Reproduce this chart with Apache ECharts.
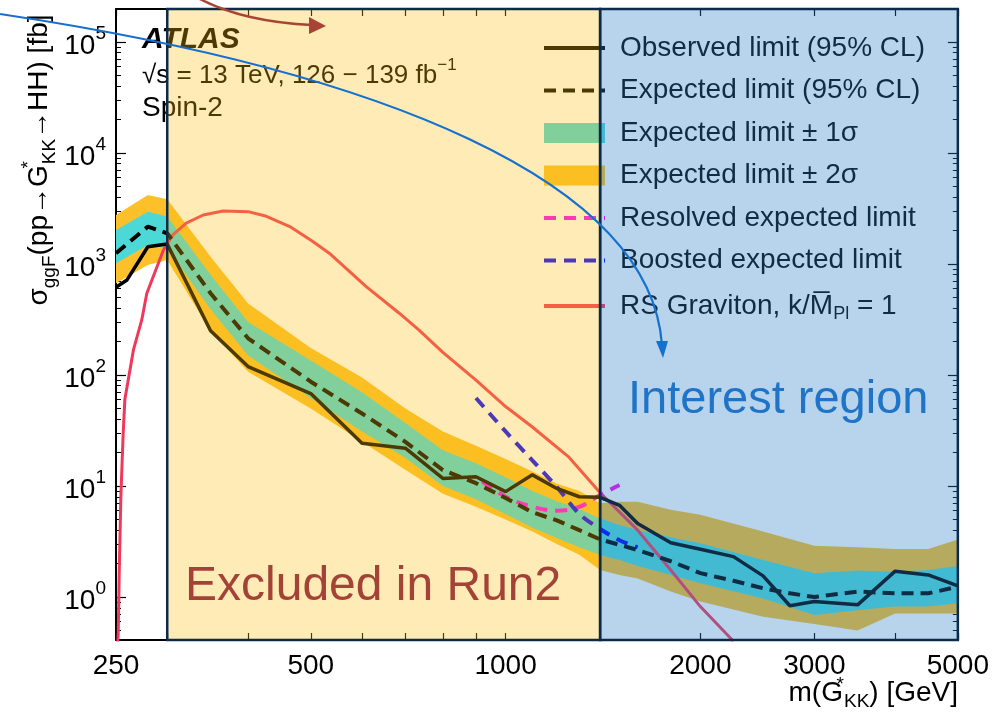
<!DOCTYPE html>
<html>
<head>
<meta charset="utf-8">
<script src="https://cdn.jsdelivr.net/npm/echarts@6/dist/echarts.min.js"></script>
<style>
html, body { margin: 0; padding: 0; background: #fff; }
#chart { width: 992px; height: 715px; }
</style>
</head>
<body>
<div id="chart"></div>
<script>
// observed limit (95% CL)
const obsMass = [250, 260, 280, 300, 350, 400, 500, 600, 700, 800, 900, 1000, 1100, 1200, 1300, 1400, 1500, 1600, 1800, 2000, 2250, 2500, 2750, 3000, 3500, 4000, 4500, 5000];
const obsLimit = [617, 718, 1430, 1510, 250, 119, 68, 24.3, 21.9, 11.7, 12.1, 8.9, 12.6, 9.5, 8.0, 7.9, 6.7, 4.6, 3.08, 2.69, 2.31, 1.55, 0.835, 0.91, 0.85, 1.71, 1.58, 1.26];
// expected limit
const expMass = [250, 280, 300, 350, 400, 500, 600, 700, 800, 900, 1000, 1100, 1200, 1300, 1400, 1500, 1600, 1800, 2000, 2250, 2500, 2750, 3000, 3500, 4000, 4500, 5000];
const expLimit = [1250, 2170, 1890, 545, 214, 87, 45, 25, 13.9, 10.6, 7.8, 5.8, 4.9, 4.0, 3.3, 2.95, 2.65, 2.1, 1.64, 1.4, 1.2, 1.08, 1.0, 1.12, 1.08, 1.08, 1.24];
// +-1 sigma / +-2 sigma bands
const bandMass = [250, 280, 300, 350, 400, 500, 600, 700, 800, 900, 1000, 1100, 1200, 1300, 1400, 1500, 1600, 1800, 2000, 2500, 3000, 3500, 4000, 4500, 5000];
const band2Up = [2760, 4180, 3830, 1160, 440, 175, 95, 50, 31, 23, 17.5, 13.5, 10.5, 9.0, 7.0, 7.2, 7.2, 6.1, 5.5, 3.9, 2.9, 2.8, 2.7, 2.7, 3.3];
const band1Up = [2020, 2960, 2670, 800, 300, 135, 70, 37, 21, 16, 12, 9.0, 7.3, 6.2, 5.1, 4.45, 4.0, 3.45, 3.05, 2.15, 1.64, 1.73, 1.69, 1.75, 1.9];
const band1Lo = [1015, 1480, 1385, 390, 150, 62, 31, 18, 10, 7.6, 5.6, 4.2, 3.4, 2.8, 2.39, 2.15, 1.9, 1.58, 1.33, 0.97, 0.69, 0.76, 0.82, 0.82, 0.88];
const band2Lo = [670, 980, 1086, 250, 107, 50, 25, 14, 8.5, 6.5, 5.0, 3.9, 3.0, 2.4, 1.75, 1.58, 1.47, 1.12, 0.91, 0.665, 0.57, 0.50, 0.71, 0.71, 0.71];
// resolved / boosted expected
const resMass = [920, 1000, 1100, 1200, 1300, 1400, 1500];
const resLimit = [11, 8, 6.5, 6.0, 6.5, 8.3, 10.2];
const booMass = [900, 1000, 1100, 1200, 1300, 1400, 1500, 1600];
const booLimit = [62, 31, 17, 9.8, 5.6, 4.1, 3.25, 2.8];
// RS graviton, k/MPl = 1
const rsMass = [251, 252, 253, 254.3, 255, 256.5, 258, 261.6, 266, 274, 279, 288, 296, 306, 321, 341, 366, 400, 427, 464, 503, 534, 609, 685, 735, 800, 900, 1000, 1100, 1250, 1400, 1600, 1800, 2000, 2250];
const rsXsec = [0.3, 0.47, 1.9, 7.5, 12, 30, 60, 96, 168, 313, 545, 883, 1336, 1824, 2330, 2760, 3000, 2960, 2690, 2170, 1600, 1250, 624, 360, 254, 160, 90, 52, 34, 18.4, 8.7, 4.0, 1.75, 0.82, 0.4];

// shaded regions
const regionStart = [300, 1400];
const regionEnd = [1400, 5000];

// axis ticks
const xTicks = [250, 300, 400, 500, 600, 700, 800, 900, 1000, 2000, 3000, 4000, 5000];
const xLabels = [250, 500, 1000, 2000, 3000, 5000];
const yMajor = [1, 10, 100, 1000, 10000, 100000];
const yMinor = [];
[0.1, 1, 10, 100, 1000, 10000, 100000].forEach(function (d) {
  for (let k = 2; k <= 9; k++) yMinor.push(k * d);
});

const FONT = '"Liberation Sans", Arial, Helvetica, sans-serif';
const names = {
  obs: 'Observed limit (95% CL)',
  exp: 'Expected limit (95% CL)',
  s1: 'Expected limit \u00b1 1\u03c3',
  s2: 'Expected limit \u00b1 2\u03c3',
  res: 'Resolved expected limit',
  boo: 'Boosted expected limit',
  rs: 'RS Graviton'
};

function pairs(xs, ys) {
  return xs.map(function (x, i) { return [x, ys[i]]; });
}

function bandSeries(name, up, lo, color) {
  return {
    type: 'custom',
    name: name,
    z: 1,
    silent: true,
    clip: true,
    itemStyle: { color: color },
    data: [[bandMass[0], up[0]]],
    encode: { x: 0, y: 1 },
    renderItem: function (params, api) {
      const pts = [];
      for (let i = 0; i < bandMass.length; i++) pts.push(api.coord([bandMass[i], up[i]]));
      for (let i = bandMass.length - 1; i >= 0; i--) pts.push(api.coord([bandMass[i], lo[i]]));
      return { type: 'polygon', shape: { points: pts }, style: { fill: color } };
    }
  };
}

const regionFill = ['rgba(252,188,12,0.30)', 'rgba(47,129,200,0.34)'];

function yLabel(v) {
  const e = Math.round(Math.log10(v));
  return '{b|10}{s|' + e + '}';
}

// legend entry for a line: hide the round marker, keep the line
function lineEntry(name) {
  return {
    name: name,
    itemStyle: { color: 'rgba(0,0,0,0)', borderColor: 'rgba(0,0,0,0)', borderWidth: 0 },
    lineStyle: { width: 4 }
  };
}

const yAxisBase = {
  type: 'log', logBase: 10, min: 0.41, max: 1.98e5,
  splitLine: { show: false },
  axisLine: { show: true, lineStyle: { color: '#000', width: 2 } }
};

const myChart = echarts.init(document.getElementById('chart'));
const option = {
  animation: false,
  backgroundColor: '#fff',
  grid: { left: 116, right: 33, top: 9, bottom: 75 },
  xAxis: [{
    type: 'log', logBase: 10, min: 250, max: 5000, position: 'bottom',
    splitLine: { show: false },
    axisLine: { lineStyle: { color: '#000', width: 2 } },
    axisTick: { inside: true, length: 7, customValues: xTicks, lineStyle: { color: '#000', width: 1.2 } },
    axisLabel: {
      customValues: xLabels, fontSize: 28, color: '#000', fontFamily: FONT, margin: 12,
      formatter: function (v) { return String(Math.round(v)); }
    }
  }, {
    type: 'log', logBase: 10, min: 250, max: 5000, position: 'top',
    splitLine: { show: false },
    axisLine: { lineStyle: { color: '#000', width: 2 } },
    axisTick: { inside: true, length: 7, customValues: xTicks, lineStyle: { color: '#000', width: 1.2 } },
    axisLabel: { show: false }
  }],
  yAxis: [
    Object.assign({}, yAxisBase, {
      position: 'left',
      axisTick: { inside: true, length: 10, customValues: yMajor, lineStyle: { color: '#000', width: 1.2 } },
      axisLabel: {
        customValues: yMajor, formatter: yLabel, margin: 10, color: '#000',
        rich: {
          b: { fontSize: 28, fontFamily: FONT, color: '#000', lineHeight: 36, verticalAlign: 'bottom' },
          s: { fontSize: 19, fontFamily: FONT, color: '#000', lineHeight: 36, verticalAlign: 'top' }
        }
      }
    }),
    Object.assign({}, yAxisBase, {
      position: 'left', axisLine: { show: false },
      axisTick: { inside: true, length: 5, customValues: yMinor, lineStyle: { color: '#000', width: 1 } },
      axisLabel: { show: false }
    }),
    Object.assign({}, yAxisBase, {
      position: 'right',
      axisTick: { inside: true, length: 10, customValues: yMajor, lineStyle: { color: '#000', width: 1.2 } },
      axisLabel: { show: false }
    }),
    Object.assign({}, yAxisBase, {
      position: 'right', axisLine: { show: false },
      axisTick: { inside: true, length: 5, customValues: yMinor, lineStyle: { color: '#000', width: 1 } },
      axisLabel: { show: false }
    })
  ],
  legend: {
    orient: 'vertical', left: 537, top: 29, z: 1,
    itemWidth: 61, itemHeight: 20, itemGap: 14.5,
    selectedMode: false,
    lineStyle: { width: 4 },
    textStyle: {
      fontSize: 28, fontFamily: FONT, color: '#000', lineHeight: 28, padding: [0, 0, 0, 10],
      rich: {
        a: { fontSize: 28, fontFamily: FONT, color: '#000' },
        s: { fontSize: 18, fontFamily: FONT, color: '#000', verticalAlign: 'bottom', lineHeight: 34 }
      }
    },
    formatter: function (name) {
      if (name === names.rs) return '{a|RS Graviton, k/M\u0305}{s|Pl}{a| = 1}';
      return name;
    },
    data: [
      lineEntry(names.obs),
      lineEntry(names.exp),
      { name: names.s1, icon: 'rect' },
      { name: names.s2, icon: 'rect' },
      lineEntry(names.res),
      lineEntry(names.boo),
      lineEntry(names.rs)
    ]
  },
  series: [
    bandSeries(names.s2, band2Up, band2Lo, '#fcc02a'),
    bandSeries(names.s1, band1Up, band1Lo, '#4dd8d8'),
    {
      type: 'line', name: names.rs, data: pairs(rsMass, rsXsec), z: 3,
      symbol: 'none',
      lineStyle: { color: '#f2385a', width: 3 }, itemStyle: { color: '#f2385a' }
    },
    {
      type: 'line', name: names.res, data: pairs(resMass, resLimit), z: 4,
      symbol: 'none', smooth: 0.4,
      lineStyle: { color: '#ff00ff', width: 4, type: [12, 8] }, itemStyle: { color: '#ff00ff' }
    },
    {
      type: 'line', name: names.boo, data: pairs(booMass, booLimit), z: 4,
      symbol: 'none', smooth: 0.3,
      lineStyle: { color: '#0000ff', width: 4, type: [12, 8] }, itemStyle: { color: '#0000ff' }
    },
    {
      type: 'line', name: names.exp, data: pairs(expMass, expLimit), z: 5,
      symbol: 'none',
      lineStyle: { color: '#000', width: 4, type: [12, 7] }, itemStyle: { color: '#000' }
    },
    {
      type: 'line', name: names.obs, data: pairs(obsMass, obsLimit), z: 6,
      symbol: 'none',
      lineStyle: { color: '#000', width: 3.5 }, itemStyle: { color: '#000' }
    },
    {
      type: 'custom', name: 'regions', z: 10, silent: true,
      data: regionStart.map(function (s, i) { return [s, regionEnd[i]]; }),
      encode: { x: [0, 1] },
      renderItem: function (params, api) {
        const cs = params.coordSys;
        const x0 = api.coord([api.value(0), 1])[0];
        const x1 = api.coord([api.value(1), 1])[0];
        return {
          type: 'rect',
          shape: { x: x0, y: cs.y, width: x1 - x0, height: cs.height },
          style: { fill: regionFill[params.dataIndex], stroke: '#0c2a4a', lineWidth: 2.5 }
        };
      }
    }
  ],
  graphic: [
    { type: 'text', left: 142, top: 25, z: 1,
      style: { text: 'ATLAS', font: 'italic bold 30px ' + FONT, fill: '#000' } },
    { type: 'text', left: 142, top: 57, z: 1,
      style: {
        text: '{t|\u221as = 13 TeV, 126 \u2212 139 fb}{p|\u22121}',
        rich: {
          t: { fontSize: 26, fontFamily: FONT, fill: '#000', lineHeight: 32, verticalAlign: 'bottom' },
          p: { fontSize: 17, fontFamily: FONT, fill: '#000', lineHeight: 32, verticalAlign: 'top' }
        }
      } },
    { type: 'text', left: 142, top: 94, z: 1,
      style: { text: 'Spin-2', font: '28px ' + FONT, fill: '#000' } },
    { type: 'text', z: 1, x: 39, y: 160, rotation: Math.PI / 2,
      style: {
        text: '{m|\u03c3}{d|ggF}{m|(pp\u2192G}{u|*}{d|KK}{m|\u2192HH) [fb]}',
        align: 'center', verticalAlign: 'middle',
        rich: {
          m: { fontSize: 28, fontFamily: FONT, fill: '#000', lineHeight: 40, verticalAlign: 'middle' },
          d: { fontSize: 19, fontFamily: FONT, fill: '#000', lineHeight: 40, verticalAlign: 'bottom' },
          u: { fontSize: 19, fontFamily: FONT, fill: '#000', lineHeight: 40, verticalAlign: 'top', width: 1 }
        }
      } },
    { type: 'text', z: 1, x: 958, y: 693,
      style: {
        text: '{m|m(G}{u|*}{d|KK}{m|) [GeV]}',
        align: 'right', verticalAlign: 'middle',
        rich: {
          m: { fontSize: 28, fontFamily: FONT, fill: '#000', lineHeight: 36, verticalAlign: 'middle' },
          d: { fontSize: 19, fontFamily: FONT, fill: '#000', lineHeight: 36, verticalAlign: 'bottom' },
          u: { fontSize: 19, fontFamily: FONT, fill: '#000', lineHeight: 36, verticalAlign: 'top', width: 1 }
        }
      } },
    { type: 'text', z: 100, x: 185, y: 563,
      style: { text: 'Excluded in Run2', font: '48px ' + FONT, fill: '#a34337', verticalAlign: 'top' } },
    { type: 'text', z: 100, x: 628, y: 377,
      style: { text: 'Interest region', font: '47px ' + FONT, fill: '#1f74c8', verticalAlign: 'top' } },
    { type: 'bezierCurve', z: 100,
      shape: { x1: 0, y1: 14, cpx1: 380, cpy1: 71, cpx2: 650, cpy2: 180, x2: 662, y2: 345 },
      style: { stroke: '#1670d0', lineWidth: 2.2, fill: null } },
    { type: 'polygon', z: 100,
      shape: { points: [[656, 341], [668, 341], [663, 358]] },
      style: { fill: '#1670d0' } },
    { type: 'bezierCurve', z: 100,
      shape: { x1: 198, y1: -2, cpx1: 228, cpy1: 14, cpx2: 268, cpy2: 23, x2: 312, y2: 25 },
      style: { stroke: '#a84436', lineWidth: 2.5, fill: null } },
    { type: 'polygon', z: 100,
      shape: { points: [[309, 17], [309, 34], [326, 26]] },
      style: { fill: '#a84436' } }
  ]
};
myChart.setOption(option);
</script>
</body>
</html>
